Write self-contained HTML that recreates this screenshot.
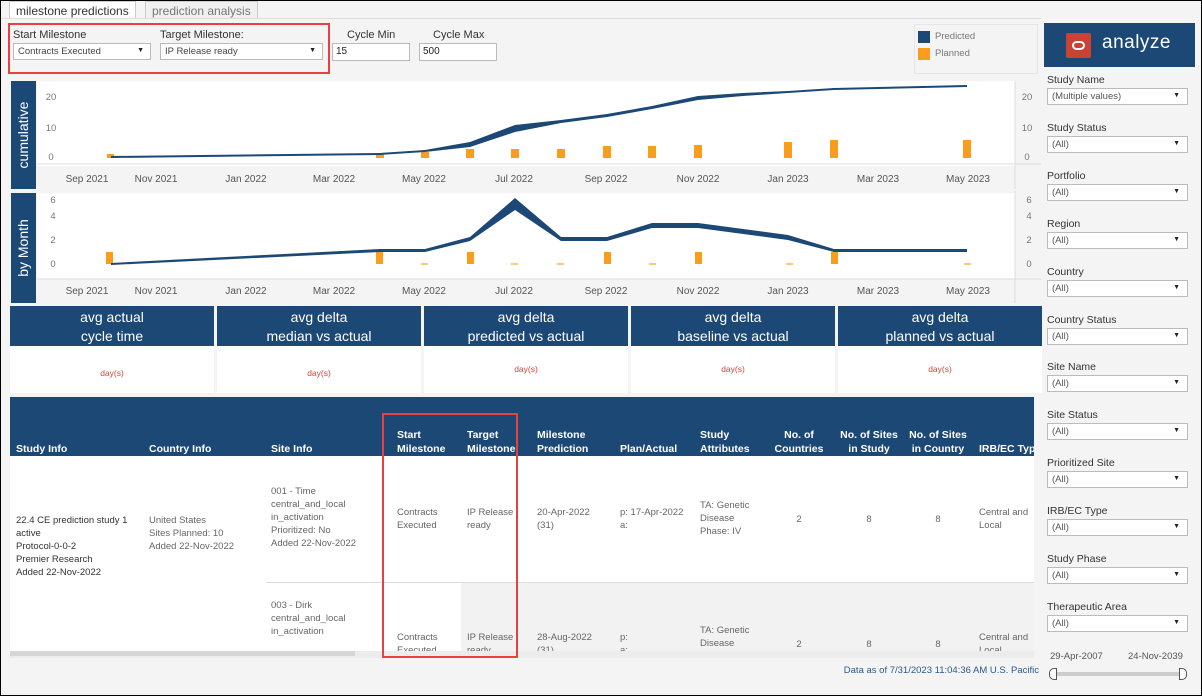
<!DOCTYPE html>
<html><head><meta charset="utf-8"><style>
*{box-sizing:border-box;margin:0;padding:0}
body{width:1202px;height:696px;overflow:hidden;background:#f4f4f4;font-family:"Liberation Sans",sans-serif;position:relative;border:1px solid #000}
.a{position:absolute}
.tab{position:absolute;top:0;height:18px;font-size:12px;padding:2px 6px;border:1px solid #ccc;border-bottom:none}
.lbl{position:absolute;font-size:11px;color:#333}
.dd{position:absolute;height:17px;background:#fff;border:1px solid #bbb;font-size:9.5px;color:#444;padding:2px 4px;white-space:nowrap}
.dd:after{content:"\25BC";position:absolute;right:6px;top:3px;font-size:7px;color:#222}
.inp{position:absolute;height:18px;background:#fff;border:1px solid #bbb;font-size:10px;padding:2px 3px;color:#222}
.kh{position:absolute;top:305px;height:40px;background:#1c4875;color:#fff;font-size:14px;text-align:center;line-height:19px;padding-top:2px;font-family:"Liberation Sans Narrow","Liberation Sans",sans-serif}
.kb{position:absolute;top:345px;height:47px;background:#fff;color:#d0453a;font-size:8.5px;text-align:center;padding-top:22px}
.th{position:absolute;color:#fff;font-size:10.5px;font-weight:bold;line-height:14px}
.td{position:absolute;color:#666;font-size:9.5px;line-height:13px}
.sl{position:absolute;left:1046px;font-size:10.5px;color:#333}
.sd{position:absolute;left:1046px;width:141px;height:17px;background:#fff;border:1px solid #bbb;font-size:9.5px;color:#555;padding:2px 4px}
.sd:after{content:"\25BC";position:absolute;right:7px;top:3px;font-size:7px;color:#222}
.xt{font-size:10px;fill:#555}
.yt{font-size:9.5px;fill:#777}
</style></head><body>
<div class="tab" style="left:8px;background:#fff;color:#333;border-color:#ccc">milestone predictions</div>
<div class="tab" style="left:144px;background:#f0f0f0;color:#777">prediction analysis</div>
<div class="a" style="left:0;top:17px;width:1040px;height:1px;background:#ddd"></div>
<div class="a" style="left:7px;top:22px;width:322px;height:51px;border:2px solid #e8403f"></div>
<div class="lbl" style="left:12px;top:28px">Start Milestone</div>
<div class="lbl" style="left:159px;top:28px">Target Milestone:</div>
<div class="lbl" style="left:346px;top:28px">Cycle Min</div>
<div class="lbl" style="left:432px;top:28px">Cycle Max</div>
<div class="dd" style="left:12px;top:42px;width:138px">Contracts Executed</div>
<div class="dd" style="left:159px;top:42px;width:163px">IP Release ready</div>
<div class="inp" style="left:331px;top:42px;width:78px">15</div>
<div class="inp" style="left:418px;top:42px;width:78px">500</div>
<div class="a" style="left:913px;top:23px;width:124px;height:50px;border:1px solid #e6e6e6"></div>
<div class="a" style="left:917px;top:30px;width:12px;height:12px;background:#1c4875"></div>
<div class="a" style="left:917px;top:47px;width:12px;height:12px;background:#f99d1c"></div>
<div class="lbl" style="left:934px;top:30px;font-size:9.5px;color:#777">Predicted</div>
<div class="lbl" style="left:934px;top:47px;font-size:9.5px;color:#777">Planned</div>
<div class="a" style="left:1043px;top:22px;width:151px;height:44px;background:#1c4875"></div>
<div class="a" style="left:1065px;top:32px;width:25px;height:25px;background:#c94234;border-radius:2px"></div>
<div class="a" style="left:1071px;top:40px;width:13px;height:9px;border:2px solid #fff;border-radius:5px"></div>
<div class="a" style="left:1101px;top:31px;color:#fff;font-size:19px;letter-spacing:.5px">analyze</div>

<svg class="a" style="left:0;top:78px" width="1041" height="228">
<rect x="36" y="2" width="978" height="85" fill="#fff"/>
<rect x="10" y="2" width="25" height="108" fill="#1c4875"/>
<text transform="translate(27,56) rotate(-90)" fill="#fff" font-size="14" text-anchor="middle">cumulative</text>
<line x1="36" y1="85" x2="1040" y2="85" stroke="#ddd"/>
<line x1="1014" y1="2" x2="1014" y2="110" stroke="#ddd"/>
<g class="yt" text-anchor="middle"><text x="50" y="21" class="yt">20</text><text x="50" y="52" class="yt">10</text><text x="50" y="81" class="yt">0</text>
<text x="1026" y="21" class="yt">20</text><text x="1026" y="52" class="yt">10</text><text x="1026" y="81" class="yt">0</text></g>
<g fill="#f99d1c"><rect x="106" y="75" width="7" height="4"/><rect x="375" y="74" width="8" height="5"/><rect x="420" y="73" width="8" height="6"/><rect x="465" y="70" width="8" height="9"/><rect x="510" y="70" width="8" height="9"/><rect x="556" y="70" width="8" height="9"/><rect x="602" y="67" width="8" height="12"/><rect x="647" y="67" width="8" height="12"/><rect x="693" y="66" width="8" height="13"/><rect x="783" y="63" width="8" height="16"/><rect x="829" y="61" width="8" height="18"/><rect x="962" y="61" width="8" height="18"/></g>
<polygon fill="#1c4875" points="110,77 379,74 424,71 469,63 514,46 560,41 606,35 651,27 697,17 742,14 787,12 833,9 877,8 966,6 966,8 877,10 833,11 787,14 742,17 697,21 651,30 606,38 560,44 514,53 469,68 424,73 379,76 110,79"/>
<g class="xt" text-anchor="middle"><text x="86" y="103">Sep 2021</text><text x="155" y="103">Nov 2021</text><text x="245" y="103">Jan 2022</text><text x="333" y="103">Mar 2022</text><text x="423" y="103">May 2022</text><text x="513" y="103">Jul 2022</text><text x="605" y="103">Sep 2022</text><text x="697" y="103">Nov 2022</text><text x="787" y="103">Jan 2023</text><text x="877" y="103">Mar 2023</text><text x="967" y="103">May 2023</text></g>

<rect x="36" y="114" width="978" height="86" fill="#fff"/>
<rect x="10" y="114" width="25" height="110" fill="#1c4875"/>
<text transform="translate(27,169) rotate(-90)" fill="#fff" font-size="14" text-anchor="middle">by Month</text>
<line x1="36" y1="200" x2="1040" y2="200" stroke="#ddd"/>
<line x1="1014" y1="112" x2="1014" y2="224" stroke="#ddd"/>
<g text-anchor="middle"><text x="52" y="124" class="yt">6</text><text x="52" y="140" class="yt">4</text><text x="52" y="164" class="yt">2</text><text x="52" y="188" class="yt">0</text>
<text x="1028" y="124" class="yt">6</text><text x="1028" y="140" class="yt">4</text><text x="1028" y="164" class="yt">2</text><text x="1028" y="188" class="yt">0</text></g>
<g fill="#f99d1c"><rect x="105" y="173" width="7" height="12"/><rect x="375" y="173" width="7" height="12"/><rect x="466" y="173" width="7" height="12"/><rect x="603" y="173" width="7" height="12"/><rect x="694" y="173" width="7" height="12"/><rect x="830" y="173" width="7" height="12"/></g>
<g fill="#fbc980"><rect x="420" y="184" width="7" height="2"/><rect x="510" y="184" width="7" height="2"/><rect x="556" y="184" width="7" height="2"/><rect x="648" y="184" width="7" height="2"/><rect x="785" y="184" width="7" height="2"/><rect x="963" y="184" width="7" height="2"/></g>
<polygon fill="#1c4875" points="110,184 379,170 424,170 469,158 514,119 560,158 606,158 651,144 697,144 787,156 833,170 966,170 966,173 833,173 787,161 697,149 651,149 606,162 560,162 514,131 469,162 424,173 379,173 110,186"/>
<g class="xt" text-anchor="middle"><text x="86" y="215">Sep 2021</text><text x="155" y="215">Nov 2021</text><text x="245" y="215">Jan 2022</text><text x="333" y="215">Mar 2022</text><text x="423" y="215">May 2022</text><text x="513" y="215">Jul 2022</text><text x="605" y="215">Sep 2022</text><text x="697" y="215">Nov 2022</text><text x="787" y="215">Jan 2023</text><text x="877" y="215">Mar 2023</text><text x="967" y="215">May 2023</text></g>
</svg>

<div class="kh" style="left:9px;width:204px">avg actual<br>cycle time</div>
<div class="kh" style="left:216px;width:204px">avg delta<br>median vs actual</div>
<div class="kh" style="left:423px;width:204px">avg delta<br>predicted vs actual</div>
<div class="kh" style="left:630px;width:204px">avg delta<br>baseline vs actual</div>
<div class="kh" style="left:837px;width:204px">avg delta<br>planned vs actual</div>
<div class="kb" style="left:9px;width:204px">day(s)</div>
<div class="kb" style="left:216px;width:204px">day(s)</div>
<div class="kb" style="left:423px;width:204px;padding-top:18px">day(s)</div>
<div class="kb" style="left:630px;width:204px;padding-top:18px">day(s)</div>
<div class="kb" style="left:837px;width:204px;padding-top:18px">day(s)</div>

<div class="a" style="left:9px;top:396px;width:1024px;height:59px;background:#1c4875"></div>
<div class="a" style="left:9px;top:455px;width:1024px;height:195px;background:#fff"></div>
<div class="a" style="left:265px;top:581px;width:768px;height:1px;background:#ddd"></div>
<div class="a" style="left:460px;top:582px;width:573px;height:68px;background:#f2f2f2"></div>
<div class="a" style="left:9px;top:650px;width:1024px;height:7px;background:#ececec"></div>
<div class="a" style="left:9px;top:650px;width:345px;height:5px;background:#d6d6d6"></div>
<div class="th" style="left:15px;top:441px">Study Info</div>
<div class="th" style="left:148px;top:441px">Country Info</div>
<div class="th" style="left:270px;top:441px">Site Info</div>
<div class="th" style="left:396px;top:427px">Start<br>Milestone</div>
<div class="th" style="left:466px;top:427px">Target<br>Milestone</div>
<div class="th" style="left:536px;top:427px">Milestone<br>Prediction</div>
<div class="th" style="left:619px;top:441px">Plan/Actual</div>
<div class="th" style="left:699px;top:427px">Study<br>Attributes</div>
<div class="th" style="left:773px;top:427px;text-align:center;width:50px">No. of<br>Countries</div>
<div class="th" style="left:836px;top:427px;text-align:center;width:64px">No. of Sites<br>in Study</div>
<div class="th" style="left:905px;top:427px;text-align:center;width:64px">No. of Sites<br>in Country</div>
<div class="th" style="left:978px;top:441px;white-space:nowrap;width:55px;overflow:hidden">IRB/EC Type</div>
<div class="td" style="left:15px;top:513px;color:#333">22.4 CE prediction study 1<br>active<br>Protocol-0-0-2<br>Premier Research<br>Added 22-Nov-2022</div>
<div class="td" style="left:148px;top:513px">United States<br>Sites Planned: 10<br>Added 22-Nov-2022</div>
<div class="td" style="left:270px;top:484px">001 - Time<br>central_and_local<br>in_activation<br>Prioritized: No<br>Added 22-Nov-2022</div>
<div class="td" style="left:396px;top:505px">Contracts<br>Executed</div>
<div class="td" style="left:466px;top:505px">IP Release<br>ready</div>
<div class="td" style="left:536px;top:505px">20-Apr-2022<br>(31)</div>
<div class="td" style="left:619px;top:505px">p: 17-Apr-2022<br>a:</div>
<div class="td" style="left:699px;top:498px">TA: Genetic<br>Disease<br>Phase: IV</div>
<div class="td" style="left:773px;top:512px;width:50px;text-align:center">2</div>
<div class="td" style="left:836px;top:512px;width:64px;text-align:center">8</div>
<div class="td" style="left:905px;top:512px;width:64px;text-align:center">8</div>
<div class="td" style="left:978px;top:505px">Central and<br>Local</div>
<div class="a" style="left:9px;top:598px;width:1024px;height:52px;overflow:hidden">
<div class="td" style="left:261px;top:0">003 - Dirk<br>central_and_local<br>in_activation</div>
<div class="td" style="left:387px;top:32px">Contracts<br>Executed</div>
<div class="td" style="left:457px;top:32px">IP Release<br>ready</div>
<div class="td" style="left:527px;top:32px">28-Aug-2022<br>(31)</div>
<div class="td" style="left:610px;top:32px">p:<br>a:</div>
<div class="td" style="left:690px;top:25px">TA: Genetic<br>Disease</div>
<div class="td" style="left:764px;top:39px;width:50px;text-align:center">2</div>
<div class="td" style="left:827px;top:39px;width:64px;text-align:center">8</div>
<div class="td" style="left:896px;top:39px;width:64px;text-align:center">8</div>
<div class="td" style="left:969px;top:32px">Central and<br>Local</div>
</div>
<div class="a" style="left:381px;top:412px;width:136px;height:245px;border:2px solid #e8403f"></div>
<div class="a" style="left:800px;top:664px;width:238px;text-align:right;font-size:9.5px;color:#2a5a8a">Data as of 7/31/2023 11:04:36 AM U.S. Pacific</div>

<div class="sl" style="top:73px">Study Name</div><div class="sd" style="top:87px">(Multiple values)</div>
<div class="sl" style="top:121px">Study Status</div><div class="sd" style="top:135px">(All)</div>
<div class="sl" style="top:169px">Portfolio</div><div class="sd" style="top:183px">(All)</div>
<div class="sl" style="top:217px">Region</div><div class="sd" style="top:231px">(All)</div>
<div class="sl" style="top:265px">Country</div><div class="sd" style="top:279px">(All)</div>
<div class="sl" style="top:313px">Country Status</div><div class="sd" style="top:327px">(All)</div>
<div class="sl" style="top:360px">Site Name</div><div class="sd" style="top:374px">(All)</div>
<div class="sl" style="top:408px">Site Status</div><div class="sd" style="top:422px">(All)</div>
<div class="sl" style="top:456px">Prioritized Site</div><div class="sd" style="top:470px">(All)</div>
<div class="sl" style="top:504px">IRB/EC Type</div><div class="sd" style="top:518px">(All)</div>
<div class="sl" style="top:552px">Study Phase</div><div class="sd" style="top:566px">(All)</div>
<div class="sl" style="top:600px">Therapeutic Area</div><div class="sd" style="top:614px">(All)</div>
<div class="a" style="left:1049px;top:650px;font-size:9.5px;color:#555">29-Apr-2007</div>
<div class="a" style="left:1127px;top:650px;font-size:9.5px;color:#555">24-Nov-2039</div>
<div class="a" style="left:1052px;top:671px;width:130px;height:4px;background:#ccc;border-radius:2px"></div>
<div class="a" style="left:1048px;top:667px;width:8px;height:12px;border:1px solid #555;border-radius:5px 0 0 5px;background:#fff"></div>
<div class="a" style="left:1178px;top:667px;width:8px;height:12px;border:1px solid #555;border-radius:0 5px 5px 0;background:#fff"></div>
</body></html>
